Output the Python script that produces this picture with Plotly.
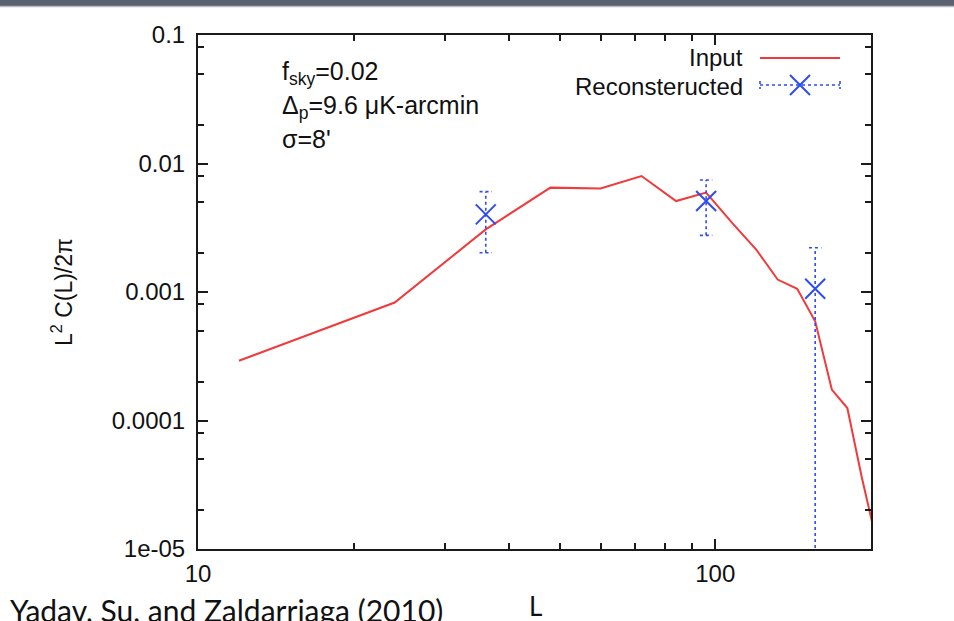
import math
import plotly.graph_objects as go

# Input lensing-potential power spectrum, L^2 C(L) / 2pi
input_L = [12, 24, 36, 48, 60, 72, 84, 96, 108, 120, 132, 144, 156, 168, 180, 192, 204]
input_val = [2.92e-4, 8.28e-4, 3.07e-3, 6.49e-3, 6.38e-3, 7.99e-3, 5.10e-3, 5.93e-3,
             3.42e-3, 2.14e-3, 1.25e-3, 1.06e-3, 5.92e-4, 1.74e-4, 1.25e-4, 3.6e-5, 1.25e-5]

# Reconstructed band powers with error bounds
rec_L = [36, 96, 156]
rec_val = [4.02e-3, 5.10e-3, 1.06e-3]
rec_hi = [6.04e-3, 7.45e-3, 2.21e-3]
rec_lo = [2.02e-3, 2.76e-3, 1.0e-7]

x_major = [10, 100]
x_major_text = ["10", "100"]
x_minor = [20, 30, 40, 50, 60, 70, 80, 90]
y_major = [1e-5, 1e-4, 1e-3, 1e-2, 1e-1]
y_major_text = ["1e-05", "0.0001", "0.001", "0.01", "0.1"]
y_minor = [m * 10.0 ** d for d in range(-5, -1) for m in (2, 5, 8)]

RED = "#ef3b3b"
BLUE = "#2e4cf0"
FONT = "Liberation Sans, Arial, sans-serif"
SLIDE_FONT = "Lato, Open Sans, sans-serif"

# plot-area geometry in pixels
W, H = 954, 621
ML, MR, MT, MB = 198, 83, 35, 72
PW, PH = W - ML - MR, H - MT - MB

fig = go.Figure()

fig.add_trace(go.Scatter(
    x=input_L, y=input_val, mode="lines",
    line=dict(color=RED, width=2), showlegend=False, hoverinfo="skip"))

# dotted error bars with short caps
cap = 10 ** 0.012
ex, ey = [], []
for L, lo, hi in zip(rec_L, rec_lo, rec_hi):
    ex += [L, L, None, L / cap, L * cap, None, L / cap, L * cap, None]
    ey += [lo, hi, None, hi, hi, None, lo, lo, None]
fig.add_trace(go.Scatter(
    x=ex, y=ey, mode="lines", line=dict(color=BLUE, width=1.6, dash="dot"),
    showlegend=False, hoverinfo="skip"))

fig.add_trace(go.Scatter(
    x=rec_L, y=rec_val, mode="markers",
    marker=dict(symbol="x-thin", size=20, line=dict(color=BLUE, width=2)),
    showlegend=False, cliponaxis=False))

# key samples on an overlay 0..1 axis pair
def fx(px):
    return (px - ML) / PW

def fy(py):
    return (H - MB - py) / PH

fig.add_trace(go.Scatter(
    x=[fx(760), fx(840)], y=[fy(58), fy(58)], mode="lines",
    line=dict(color=RED, width=2), xaxis="x2", yaxis="y2",
    showlegend=False, hoverinfo="skip"))
fig.add_trace(go.Scatter(
    x=[fx(760), fx(840), None, fx(760), fx(760), None, fx(840), fx(840)],
    y=[fy(85), fy(85), None, fy(81), fy(89), None, fy(81), fy(89)],
    mode="lines", line=dict(color=BLUE, width=1.6, dash="dot"),
    xaxis="x2", yaxis="y2", showlegend=False, hoverinfo="skip"))
fig.add_trace(go.Scatter(
    x=[fx(800)], y=[fy(85)], mode="markers",
    marker=dict(symbol="x-thin", size=20, line=dict(color=BLUE, width=2)),
    xaxis="x2", yaxis="y2", showlegend=False, hoverinfo="skip"))

annotations = [
    dict(text="Input", x=fx(745), y=fy(58), xanchor="right", yanchor="middle",
         font=dict(family=FONT, size=24, color="#111")),
    dict(text="Reconsteructed", x=fx(745), y=fy(86), xanchor="right", yanchor="middle",
         font=dict(family=FONT, size=24, color="#111")),
    dict(text="f<sub>sky</sub>=0.02", x=fx(280), y=fy(73), xanchor="left", yanchor="middle"),
    dict(text="\u0394<sub>p</sub>=9.6 \u03bcK-arcmin", x=fx(280), y=fy(107), xanchor="left", yanchor="middle"),
    dict(text="\u03c3=8'", x=fx(280), y=fy(139), xanchor="left", yanchor="middle"),
    dict(text="L<sup>2</sup> C(L)/2\u03c0", x=fx(62), y=fy(292), textangle=-90,
         xanchor="center", yanchor="middle",
         font=dict(family=FONT, size=23, color="#111")),
    dict(text="L", x=fx(535), y=fy(606), xanchor="center", yanchor="middle",
         font=dict(family=SLIDE_FONT, size=26, color="#111")),
    dict(text="Yadav, Su, and Zaldarriaga (2010)", x=fx(8), y=fy(610),
         xanchor="left", yanchor="middle",
         font=dict(family=SLIDE_FONT, size=30, color="#111")),
]
for a in annotations:
    a.update(xref="paper", yref="paper", showarrow=False)
    a.setdefault("font", dict(family=FONT, size=25, color="#111"))

axis_common = dict(
    showline=True, linecolor="#1a1a1a", linewidth=2, mirror="ticks",
    ticks="inside", ticklen=10, tickwidth=1.5, tickcolor="#1a1a1a",
    showgrid=False, zeroline=False,
    tickfont=dict(family=FONT, size=24, color="#111"),
)

fig.update_layout(
    width=W, height=H,
    margin=dict(l=ML, r=MR, t=MT, b=MB, pad=0),
    paper_bgcolor="white", plot_bgcolor="white",
    xaxis=dict(type="log", range=[1, math.log10(200)], tickmode="array",
               tickvals=x_major, ticktext=x_major_text, ticklabelstandoff=2,
               minor=dict(tickmode="array", tickvals=x_minor, ticks="inside",
                          ticklen=6, tickwidth=1.5, tickcolor="#1a1a1a", showgrid=False),
               **axis_common),
    yaxis=dict(type="log", range=[-5, -1], tickmode="array",
               tickvals=y_major, ticktext=y_major_text, ticklabelstandoff=6,
               minor=dict(tickmode="array", tickvals=y_minor, ticks="inside",
                          ticklen=6, tickwidth=1.5, tickcolor="#1a1a1a", showgrid=False),
               **axis_common),
    xaxis2=dict(overlaying="x", range=[0, 1], visible=False),
    yaxis2=dict(overlaying="y", range=[0, 1], visible=False),
    annotations=annotations,
    shapes=[
        dict(type="rect", xref="paper", yref="paper",
             x0=-ML / PW, x1=1 + MR / PW, y0=fy(6), y1=fy(0),
             fillcolor="#5b616e", line=dict(width=0), layer="above"),
        dict(type="line", xref="paper", yref="paper",
             x0=-ML / PW, x1=1 + MR / PW, y0=fy(6.5), y1=fy(6.5),
             line=dict(color="#b9bcc2", width=1.5)),
    ],
)

fig.write_html("out.html")
